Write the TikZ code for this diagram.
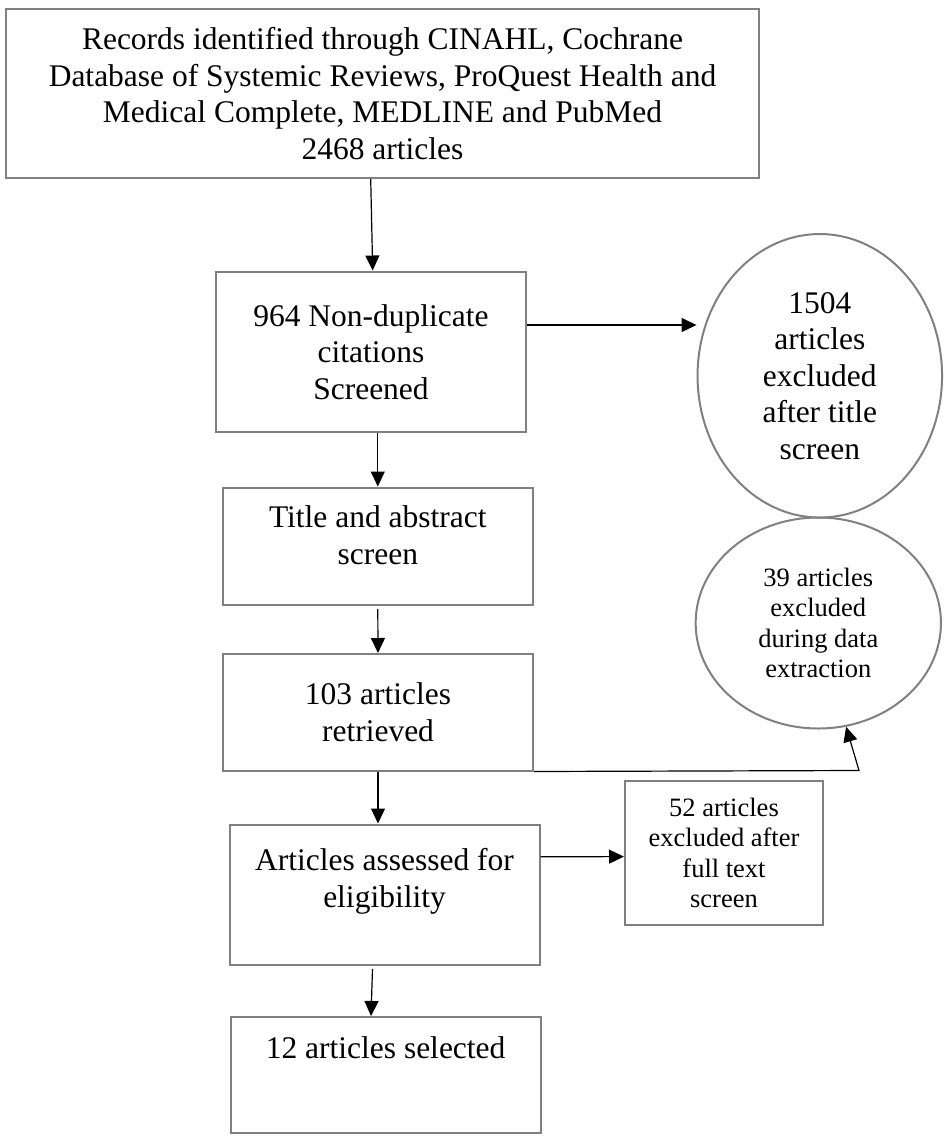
\documentclass[tikz,border=0pt]{standalone}
\usepackage{fontspec}
\setmainfont{Liberation Serif}
\usepackage{tikz}
\usetikzlibrary{arrows.meta,shapes.geometric}
\definecolor{FlowGray}{HTML}{808080}

\begin{document}
\begin{tikzpicture}[x=1pt, y=-1pt, every node/.style={font=\fontsize{31.5}{36.5}\selectfont, align=center},
  box/.style={draw=FlowGray, line width=2pt, inner sep=0pt},
  oval/.style={draw=FlowGray, line width=2pt, ellipse, inner sep=0pt},
  small/.style={font=\fontsize{26.5}{30.5}\selectfont},
  toptext/.style={inner sep=0pt, anchor=north},
  flow/.style={-{Triangle[length=15pt,width=14pt]}, line width=1.2pt}]
\useasboundingbox (0,0) rectangle (947,1141);
\node[box, minimum width=753pt, minimum height=169pt] (records) at (382.5,93.5) {Records identified through CINAHL, Cochrane\\Database of Systemic Reviews, ProQuest Health and\\Medical Complete, MEDLINE and PubMed\\2468 articles};
\node[box, minimum width=310pt, minimum height=160.5pt] (screened) at (371,351.75) {964 Non-duplicate\\citations\\Screened};
\node[box, minimum width=309.6pt, minimum height=117.5pt, label={[toptext, yshift=-19pt]north:{Title and abstract\\screen}}] (abstract) at (377.8,546.25) {};
\node[box, minimum width=310pt, minimum height=116.5pt] (retrieved) at (378,712.25) {103 articles\\retrieved};
\node[box, minimum width=310pt, minimum height=140.5pt, label={[toptext, yshift=-25pt]north:{Articles assessed for\\eligibility}}] (assessed) at (384.5,894.75) {};
\node[box, minimum width=309.8pt, minimum height=116pt, label={[toptext, yshift=-20.5pt]north:{12 articles selected}}] (selected) at (385.6,1075) {};
\node[oval, minimum width=244.5pt, minimum height=283.5pt] (titleout) at (819.8,375.8) {1504\\articles\\excluded\\after title\\screen};
\node[oval, small, minimum width=245.3pt, minimum height=211pt] (dataout) at (818.3,623) {39 articles\\excluded\\during data\\extraction};
\node[box, small, minimum width=198pt, minimum height=144pt] (fullout) at (724,853) {52 articles\\excluded after\\full text\\screen};
\coordinate (bend) at (859,770.5);
% main column
\draw[flow] ([xshift=-11.8pt]records.south) -- ([xshift=1.7pt]screened.north);
\draw[flow] (abstract.north |- screened.south) -- (abstract.north);
\draw[flow] ([yshift=-3pt]abstract.south) -- (retrieved.north);
\draw[flow] (retrieved.south) -- (retrieved.south |- assessed.north);
\draw[flow] ([xshift=-12pt,yshift=-3pt]assessed.south) -- ([xshift=-14.6pt]selected.north);
% exclusions
\draw[flow] ([yshift=26.75pt]screened.east) -- ([yshift=50.8pt]titleout.west);
\draw[flow] (retrieved.south east) -- (bend) -- (dataout.-75);
\draw[flow] ([yshift=38pt]assessed.east) -- ([yshift=-3.6pt]fullout.west);
\end{tikzpicture}
\end{document}
